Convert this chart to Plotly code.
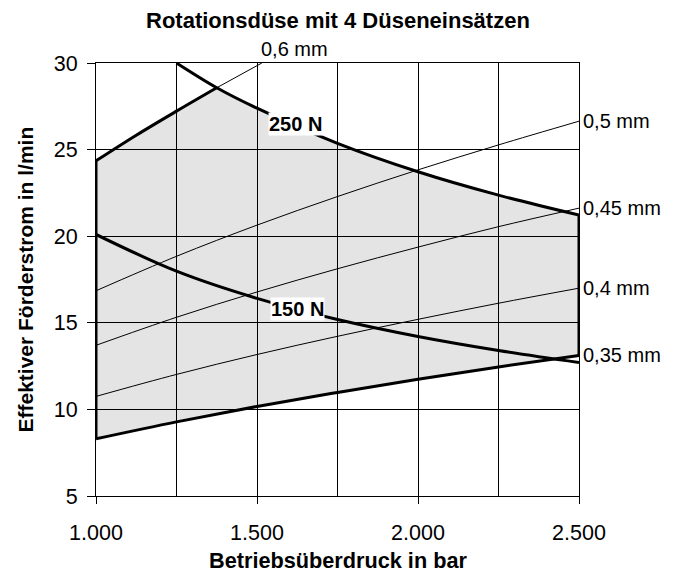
import plotly.graph_objects as go

# ---- data ----
pressure = [1000, 1250, 1500, 1750, 2000, 2250, 2500]
q_035 = [8.30, 9.28, 10.17, 10.98, 11.74, 12.45, 13.12]
q_040 = [10.75, 12.02, 13.17, 14.22, 15.20, 16.13, 17.00]
q_045 = [13.70, 15.32, 16.78, 18.12, 19.37, 20.55, 21.62]
q_050 = [16.85, 18.84, 20.64, 22.29, 23.83, 25.27, 26.64]
f_150 = [20.10, 17.98, 16.41, 15.19, 14.21, 13.40, 12.71]

x_06 = [1000, 1125, 1250, 1375, 1515]
q_06 = [24.35, 25.83, 27.22, 28.57, 30.0]

x_250 = [1250, 1375, 1500, 1750, 2000, 2250, 2500]
f_250 = [30.0, 28.57, 27.39, 25.36, 23.72, 22.37, 21.22]

x_ticks = [1000, 1500, 2000, 2500]
x_ticktext = ["1.000", "1.500", "2.000", "2.500"]
y_ticks = [5, 10, 15, 20, 25, 30]

nozzle_labels = ["0,5 mm", "0,45 mm", "0,4 mm", "0,35 mm"]
nozzle_ends = [q_050[-1], q_045[-1], q_040[-1], q_035[-1]]

FONT = "Liberation Sans, Arial, sans-serif"

fig = go.Figure()

# shaded operating region
poly_x = x_06[:4] + x_250[1:] + pressure[::-1]
poly_y = q_06[:4] + f_250[1:] + q_035[::-1]
fig.add_trace(go.Scatter(x=poly_x, y=poly_y, fill="toself",
                         fillcolor="rgba(0,0,0,0.105)", mode="lines",
                         line=dict(width=0), hoverinfo="skip"))

thin = dict(color="black", width=1, shape="spline")
thick = dict(color="black", width=3, shape="spline")

for ys in (q_040, q_045, q_050):
    fig.add_trace(go.Scatter(x=pressure, y=ys, mode="lines", line=thin))
fig.add_trace(go.Scatter(x=x_06[3:], y=q_06[3:], mode="lines", line=thin))

fig.add_trace(go.Scatter(x=pressure, y=q_035, mode="lines", line=thick))
fig.add_trace(go.Scatter(x=x_06[:4], y=q_06[:4], mode="lines", line=thick))
fig.add_trace(go.Scatter(x=x_250, y=f_250, mode="lines", line=thick))
fig.add_trace(go.Scatter(x=pressure, y=f_150, mode="lines", line=thick))
fig.add_trace(go.Scatter(x=[pressure[0], pressure[0]], y=[q_035[0], q_06[0]],
                         mode="lines", line=dict(color="black", width=3)))
fig.add_trace(go.Scatter(x=[pressure[-1], pressure[-1]], y=[q_035[-1], f_250[-1]],
                         mode="lines", line=dict(color="black", width=3)))

annotations = []
for lab, yv in zip(nozzle_labels, nozzle_ends):
    annotations.append(dict(x=2500, y=yv, xref="x", yref="y", text=lab,
                            showarrow=False, xanchor="left", yanchor="middle",
                            xshift=2, font=dict(size=20, family=FONT, color="black")))
annotations.append(dict(x=x_06[-1], y=q_06[-1], xref="x", yref="y", text="0,6 mm",
                        showarrow=False, xanchor="left", yanchor="bottom",
                        xshift=-3, yshift=1, font=dict(size=20, family=FONT, color="black")))
annotations.append(dict(x=1621, y=26.5, xref="x", yref="y", text="<b>250 N</b>",
                        showarrow=False, bgcolor="white", borderpad=0,
                        font=dict(size=20, family=FONT, color="black")))
annotations.append(dict(x=1627, y=15.8, xref="x", yref="y", text="<b>150 N</b>",
                        showarrow=False, bgcolor="white", borderpad=0,
                        font=dict(size=20, family=FONT, color="black")))
annotations.append(dict(x=0.5, y=1, xref="paper", yref="paper",
                        text="<b>Rotationsdüse mit 4 Düseneinsätzen</b>",
                        showarrow=False, yanchor="middle", yshift=43,
                        font=dict(size=22, family=FONT, color="black")))
annotations.append(dict(x=0.5, y=0, xref="paper", yref="paper",
                        text="<b>Betriebsüberdruck in bar</b>",
                        showarrow=False, yanchor="middle", yshift=-64,
                        font=dict(size=21.7, family=FONT, color="black")))
annotations.append(dict(x=0, y=0.5, xref="paper", yref="paper",
                        text="<b>Effektiver Förderstrom in l/min</b>", textangle=-90,
                        showarrow=False, xanchor="center", xshift=-71,
                        font=dict(size=21, family=FONT, color="black")))

fig.update_layout(
    width=673, height=568,
    margin=dict(l=88, r=102, t=55, b=80),
    paper_bgcolor="white", plot_bgcolor="white",
    showlegend=False,
    font=dict(family=FONT, size=20, color="black"),
    annotations=annotations,
    xaxis=dict(range=[1000, 2500], tickvals=x_ticks, ticktext=x_ticktext,
               ticks="outside", ticklen=7, tickcolor="black", tickwidth=1,
               ticklabelstandoff=10,
               showgrid=True, gridcolor="black", gridwidth=1,
               minor=dict(dtick=250, tick0=1000, showgrid=True,
                          gridcolor="black", gridwidth=1, ticks=""),
               showline=True, linecolor="black", linewidth=1, mirror=True,
               zeroline=False, tickfont=dict(size=21.5, family=FONT)),
    yaxis=dict(range=[5, 30], tickvals=y_ticks,
               ticks="outside", ticklen=8, tickcolor="black", tickwidth=1,
               ticklabelstandoff=5,
               showgrid=True, gridcolor="black", gridwidth=1,
               showline=True, linecolor="black", linewidth=1, mirror=True,
               zeroline=False, tickfont=dict(size=21.5, family=FONT)),
)

fig.write_html("out.html")
